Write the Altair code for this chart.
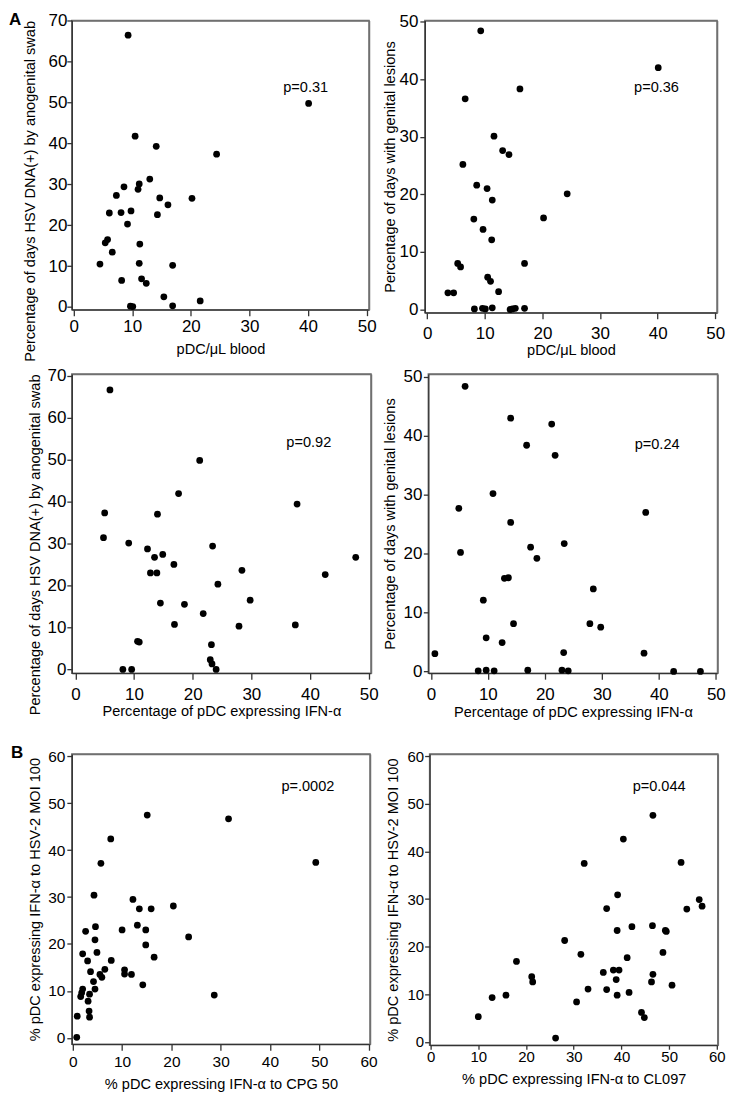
import altair as alt
import pandas as pd

FONT = "Liberation Sans, Arial, Helvetica, sans-serif"

# ---------------- data ----------------
# A, top-left: pDC/uL blood vs % days HSV DNA(+) by anogenital swab
a1_x = [9.3, 40.1, 10.5, 14.1, 24.4, 13.0, 11.2, 11.0, 8.6, 7.3, 14.7, 20.2, 16.1, 6.1, 8.1, 9.8, 14.3,
        9.2, 5.4, 5.8, 6.6, 11.3, 4.5, 11.2, 16.9, 8.2, 11.6, 12.4, 15.4, 21.6, 9.7, 10.1, 16.9]
a1_y = [66.5, 49.8, 41.8, 39.3, 37.4, 31.3, 30.1, 28.8, 29.4, 27.3, 26.7, 26.6, 25.0, 23.0, 23.1, 23.5, 22.6,
        20.3, 15.7, 16.5, 13.4, 15.4, 10.5, 10.7, 10.2, 6.5, 6.9, 5.8, 2.5, 1.5, 0.2, 0.1, 0.3]

# A, top-right: pDC/uL blood vs % days with genital lesions
a2_x = [9.3, 40.1, 16.1, 6.6, 11.6, 13.1, 14.2, 6.2, 8.6, 10.4, 11.3, 24.3, 8.1, 20.2, 9.7, 11.2,
        5.3, 5.8, 16.9, 10.5, 11.0, 12.4, 3.6, 4.6, 8.2, 9.6, 10.1, 11.3, 14.4, 14.8, 15.3, 16.9]
a2_y = [48.4, 42.0, 38.3, 36.6, 30.1, 27.6, 26.9, 25.2, 21.6, 21.0, 19.0, 20.1, 15.7, 15.9, 13.9, 12.1,
        8.0, 7.4, 8.0, 5.6, 4.9, 3.1, 2.9, 2.9, 0.1, 0.2, 0.1, 0.3, 0.0, 0.1, 0.2, 0.2]

# A, middle-left: % pDC expressing IFN-a vs % days HSV DNA(+)
a3_x = [5.9, 21.2, 17.6, 37.8, 5.0, 14.0, 4.8, 9.1, 12.3, 23.4, 13.5, 14.9, 47.8, 16.8, 28.4, 12.8, 13.9,
        42.6, 24.3, 29.8, 14.5, 18.6, 21.8, 16.9, 27.9, 37.5, 10.6, 10.9, 23.2, 8.1, 9.6, 23.0, 23.3, 24.0]
a3_y = [66.6, 49.8, 41.9, 39.4, 37.3, 37.0, 31.4, 30.1, 28.7, 29.4, 26.7, 27.4, 26.7, 25.0, 23.6, 23.0, 23.0,
        22.6, 20.3, 16.5, 15.8, 15.5, 13.3, 10.7, 10.3, 10.6, 6.7, 6.5, 5.9, 0.0, 0.0, 2.3, 1.3, 0.0]

# A, middle-right: % pDC expressing IFN-a vs % days with genital lesions
a4_x = [6.0, 14.0, 21.2, 16.8, 21.8, 10.9, 4.9, 37.7, 14.0, 23.4, 17.5, 18.6, 5.2, 12.9, 13.6, 28.5, 9.2,
        14.5, 27.9, 29.8, 9.7, 12.5, 0.7, 23.3, 37.4, 8.3, 9.7, 11.1, 17.0, 23.0, 24.1, 42.6, 47.3]
a4_y = [48.4, 43.0, 42.0, 38.4, 36.7, 30.2, 27.7, 27.0, 25.3, 21.7, 21.1, 19.2, 20.2, 15.8, 15.9, 14.0, 12.1,
        8.1, 8.1, 7.5, 5.7, 4.9, 3.0, 3.2, 3.1, 0.1, 0.2, 0.1, 0.2, 0.2, 0.1, 0.0, 0.0]

# B, left: % pDC IFN-a to CPG 50 vs % pDC IFN-a to HSV-2 MOI 100
b1_x = [15.1, 31.6, 7.7, 49.3, 5.7, 4.3, 12.2, 13.5, 15.9, 20.4, 13.1, 4.6, 2.6, 10.0, 14.8, 23.5, 4.5,
        14.8, 2.0, 4.9, 16.5, 3.0, 7.8, 3.6, 6.5, 10.5, 10.5, 11.9, 5.5, 5.9, 4.2, 14.2, 2.0, 4.5,
        1.8, 1.6, 3.4, 3.1, 28.7, 3.3, 3.4, 0.9, 0.8]
b1_y = [47.5, 46.7, 42.4, 37.4, 37.2, 30.4, 29.5, 27.5, 27.5, 28.1, 24.0, 23.7, 22.7, 23.0, 23.0, 21.5, 20.9,
        19.8, 17.9, 18.2, 17.2, 16.4, 16.5, 14.1, 14.6, 14.5, 13.6, 13.5, 13.5, 12.9, 12.0, 11.3, 10.4, 10.4,
        9.6, 8.8, 9.3, 7.8, 9.1, 5.7, 4.4, 4.6, 0.1]

# B, right: % pDC IFN-a to CL097 vs % pDC IFN-a to HSV-2 MOI 100
b2_x = [46.6, 40.4, 32.2, 52.5, 39.2, 56.3, 56.9, 36.9, 53.7, 46.5, 42.2, 39.1, 49.2, 49.4, 28.1, 48.7,
        31.5, 41.2, 18.0, 36.2, 38.3, 39.5, 21.2, 46.6, 21.4, 38.9, 46.3, 50.6, 33.0, 36.9, 41.6, 39.1,
        15.8, 12.9, 30.6, 44.2, 44.8, 10.0, 26.2]
b2_y = [47.6, 42.6, 37.5, 37.7, 30.9, 29.9, 28.5, 28.0, 27.9, 24.4, 24.2, 23.4, 23.4, 23.2, 21.3, 18.8,
        18.4, 17.7, 16.9, 14.6, 15.1, 15.1, 13.7, 14.2, 12.6, 13.1, 12.6, 11.9, 11.1, 11.0, 10.4, 9.8,
        9.8, 9.3, 8.4, 6.2, 5.1, 5.3, 0.8]

ticks50 = [0, 10, 20, 30, 40, 50]
ticks70 = [0, 10, 20, 30, 40, 50, 60, 70]
ticks60 = [0, 10, 20, 30, 40, 50, 60]

t_swab = "Percentage of days HSV DNA(+) by anogenital swab"
t_les = "Percentage of days with genital lesions"
t_blood = "pDC/\u03bcL blood"
t_ifn = "Percentage of pDC expressing IFN-\u03b1"
t_hsv = "% pDC expressing IFN-\u03b1 to HSV-2 MOI 100"
t_cpg = "% pDC expressing IFN-\u03b1 to CPG 50"
t_cl = "% pDC expressing IFN-\u03b1 to CL097"

FRAME = "#707070"


def panel(xs, ys, *, w, h, xdom, ydom, xticks, yticks, xtitle, ytitle, lab_fs,
          x_tick, x_lab_pad, x_title_off, y_lab_pad, y_title_off,
          ptext, px, py, y_top=False, letter=None, letter_x=-60, letter_y=-9,
          letter_visible=True):
    df = pd.DataFrame({"x": xs, "y": ys})
    xs_ = alt.Scale(domain=xdom, nice=False, zero=False)
    ys_ = alt.Scale(domain=ydom, nice=False, zero=False)
    xaxis = alt.Axis(values=xticks, title=xtitle, grid=False, labelFontSize=lab_fs,
                     labelPadding=x_lab_pad, tickSize=x_tick, minExtent=x_title_off,
                     titlePadding=0, titleFontSize=14.6, labelFlush=False,
                     labelOverlap=False)
    ykw = dict(values=yticks, title=ytitle, grid=False, labelFontSize=lab_fs,
               labelPadding=y_lab_pad, tickSize=5, minExtent=y_title_off,
               titlePadding=0, titleFontSize=14.6, labelOverlap=False)
    if y_top:
        ykw.update(titleAnchor="end", titleAlign="right")
    yaxis = alt.Axis(**ykw)

    # top and right edges of the plot box, drawn as bare axis domain lines
    top_axis = alt.Axis(orient="top", title=None, labels=False, ticks=False, grid=False,
                        domainColor=FRAME, domainWidth=1.5, minExtent=0, maxExtent=0)
    right_axis = alt.Axis(orient="right", title=None, labels=False, ticks=False, grid=False,
                          domainColor=FRAME, domainWidth=1.5, minExtent=0, maxExtent=0)
    fdf = pd.DataFrame({"x0": [xdom[0]], "x1": [xdom[1]], "y0": [ydom[0]], "y1": [ydom[1]]})
    frame = alt.Chart(fdf).mark_rect(fillOpacity=0, strokeOpacity=0).encode(
        x=alt.X("x0:Q", scale=xs_, axis=top_axis), x2="x1:Q",
        y=alt.Y("y0:Q", scale=ys_, axis=right_axis), y2="y1:Q",
    )
    pts = alt.Chart(df).mark_circle(size=46, color="black", opacity=1).encode(
        x=alt.X("x:Q", scale=xs_, axis=xaxis),
        y=alt.Y("y:Q", scale=ys_, axis=yaxis),
    )
    tdf = pd.DataFrame({"x": [px], "y": [py], "t": [ptext]})
    txt = alt.Chart(tdf).mark_text(font=FONT, fontSize=14.6, color="black",
                                   align="center", baseline="middle").encode(
        x=alt.X("x:Q", scale=xs_, axis=None),
        y=alt.Y("y:Q", scale=ys_, axis=None),
        text="t:N",
    )
    layers = [frame, pts, txt]
    if letter is not None:
        ldf = pd.DataFrame({"t": [letter]})
        lt = alt.Chart(ldf).mark_text(font=FONT, fontSize=17, fontWeight="bold",
                                      color="black", align="left", baseline="top",
                                      opacity=1 if letter_visible else 0).encode(
            x=alt.value(letter_x), y=alt.value(letter_y), text="t:N")
        layers.append(lt)
    return alt.layer(*layers).resolve_axis(x="independent", y="independent").properties(
        width=w, height=h)


p1 = panel(a1_x, a1_y, w=298, h=290, xdom=[-0.3, 50.4], ydom=[-0.65, 70.1],
           xticks=ticks50, yticks=ticks70, xtitle=t_blood, ytitle=t_swab, lab_fs=17,
           x_tick=6, x_lab_pad=3, x_title_off=32, y_lab_pad=0, y_title_off=34,
           ptext="p=0.31", px=39.6, py=53.7, y_top=True,
           letter="A", letter_x=-63, letter_y=-8.5)
p2 = panel(a2_x, a2_y, w=293, h=293, xdom=[-0.4, 50.3], ydom=[-0.55, 50.2],
           xticks=ticks50, yticks=ticks50, xtitle=t_blood, ytitle=t_les, lab_fs=17,
           x_tick=6, x_lab_pad=7, x_title_off=30, y_lab_pad=2, y_title_off=27,
           ptext="p=0.36", px=39.8, py=38.5)
p3 = panel(a3_x, a3_y, w=300, h=300, xdom=[-0.6, 50.4], ydom=[-0.9, 70.4],
           xticks=ticks50, yticks=ticks70, xtitle=t_ifn, ytitle=t_swab, lab_fs=17,
           x_tick=6, x_lab_pad=7, x_title_off=30, y_lab_pad=1, y_title_off=29,
           ptext="p=0.92", px=39.8, py=54.0, y_top=True,
           letter="A", letter_x=-61.3, letter_y=0, letter_visible=False)
p4 = panel(a4_x, a4_y, w=290, h=300, xdom=[-0.45, 50.3], ydom=[-0.3, 50.5],
           xticks=ticks50, yticks=ticks50, xtitle=t_ifn, ytitle=t_les, lab_fs=17,
           x_tick=6, x_lab_pad=7, x_title_off=31, y_lab_pad=1.5, y_title_off=31,
           ptext="p=0.24", px=39.7, py=38.5)
p5 = panel(b1_x, b1_y, w=299, h=291, xdom=[-0.2, 60.3], ydom=[-1.37, 60.5],
           xticks=ticks60, yticks=ticks60, xtitle=t_cpg, ytitle=t_hsv, lab_fs=15.5,
           x_tick=6, x_lab_pad=4, x_title_off=32, y_lab_pad=2, y_title_off=29,
           ptext="p=.0002", px=47.7, py=53.4,
           letter="B", letter_x=-61, letter_y=-9.3)
p6 = panel(b2_x, b2_y, w=289, h=292, xdom=[-0.2, 60.2], ydom=[-0.7, 60.47],
           xticks=ticks60, yticks=ticks60, xtitle=t_cl, ytitle=t_hsv, lab_fs=15,
           x_tick=4, x_lab_pad=0, x_title_off=26, y_lab_pad=1, y_title_off=29,
           ptext="p=0.044", px=47.9, py=53.5)

row1 = alt.hconcat(p1, p2, spacing=5)
row2 = alt.hconcat(p3, p4, spacing=2.5)
row3 = alt.hconcat(p5, p6, spacing=6.8)

chart = alt.vconcat(alt.vconcat(row1, row2, spacing=2.5), row3, spacing=22.6).properties(
    padding={"left": 0, "top": 0, "right": 0, "bottom": 0},
    background="white",
).configure_view(
    stroke=FRAME, strokeWidth=1.5
).configure_axis(
    labelFont=FONT, titleFont=FONT, labelColor="black", titleColor="black",
    titleFontWeight="normal", domainColor="#333333", tickColor="#333333",
    domainWidth=1.3, tickWidth=1.3,
)

chart.save("out.html", embed_options={"renderer": "svg", "actions": False})
